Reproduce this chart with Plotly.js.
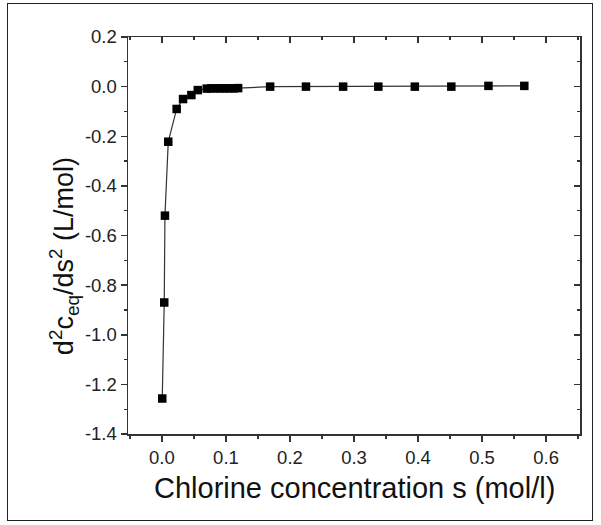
<!DOCTYPE html>
<html>
<head>
<meta charset="utf-8">
<script src="https://cdn.plot.ly/plotly-3.0.1.min.js"></script>
<style>
html,body{margin:0;padding:0;background:#fff;}
#wrap{position:relative;width:601px;height:525px;}
#chart{position:absolute;left:0;top:0;width:601px;height:525px;}
#frame{position:absolute;left:7px;top:3px;width:584px;height:516px;border:1.5px solid #222;pointer-events:none;}
</style>
</head>
<body>
<div id="wrap"><div id="chart"></div><div id="frame"></div></div>
<script>
const chlorine = [0.0005, 0.0036, 0.0047, 0.0099, 0.023, 0.033, 0.046, 0.056, 0.070, 0.077, 0.084, 0.091, 0.098, 0.105, 0.112, 0.119, 0.169, 0.225, 0.283, 0.338, 0.395, 0.452, 0.510, 0.566];
const d2ceq = [-1.257, -0.870, -0.520, -0.222, -0.090, -0.050, -0.034, -0.014, -0.008, -0.007, -0.007, -0.007, -0.007, -0.007, -0.007, -0.006, 0.000, 0.000, 0.000, 0.000, 0.000, 0.000, 0.003, 0.003];
const xTickVals = [0, 0.1, 0.2, 0.3, 0.4, 0.5, 0.6];
const xTickText = ["0.0", "0.1", "0.2", "0.3", "0.4", "0.5", "0.6"];
const yTickVals = [-1.4, -1.2, -1.0, -0.8, -0.6, -0.4, -0.2, 0.0, 0.2];
const yTickText = ["-1.4", "-1.2", "-1.0", "-0.8", "-0.6", "-0.4", "-0.2", "0.0", "0.2"];
const xTitle = "Chlorine concentration s (mol/l)";
const yTitle = "d<sup>2</sup>c<sub>eq</sub>/ds<sup>2</sup> (L/mol)";

const xRange = [-0.053, 0.653];
const yRange = [-1.4, 0.2];
const FONT = "Liberation Sans, Arial, sans-serif";
const axCol = "#333";

const trace = {
  x: chlorine, y: d2ceq, type: "scatter", mode: "lines+markers",
  line: {color: "#333", width: 1.2},
  marker: {symbol: "square", size: 8.5, color: "#000"},
  hoverinfo: "skip", showlegend: false
};

const common = {
  showgrid: false, zeroline: false, showline: true, linecolor: axCol, linewidth: 1.5,
  tickcolor: axCol, tickwidth: 1.5, ticklen: 6
};

const layout = {
  width: 601, height: 525,
  margin: {l: 128, r: 21, t: 37, b: 91},
  paper_bgcolor: "#fff", plot_bgcolor: "#fff",
  font: {family: FONT, color: "#222"},
  xaxis: Object.assign({}, common, {
    range: xRange, tickmode: "array", tickvals: xTickVals, ticktext: xTickText,
    ticks: "outside", tickfont: {size: 18.5, family: FONT, color: "#222"},
    minor: {dtick: 0.05, tick0: 0, ticks: "outside", ticklen: 3, tickcolor: axCol, tickwidth: 1.2}
  }),
  yaxis: Object.assign({}, common, {
    range: yRange, tickmode: "array", tickvals: yTickVals, ticktext: yTickText,
    ticks: "outside", tickfont: {size: 18.5, family: FONT, color: "#222"},
    minor: {dtick: 0.1, tick0: 0, ticks: "outside", ticklen: 3, tickcolor: axCol, tickwidth: 1.2}
  }),
  xaxis2: Object.assign({}, common, {
    range: xRange, overlaying: "x", side: "top", anchor: "y",
    tickmode: "array", tickvals: xTickVals, ticks: "inside", showticklabels: false,
    minor: {dtick: 0.05, tick0: 0, ticks: "inside", ticklen: 3, tickcolor: axCol, tickwidth: 1.2}
  }),
  yaxis2: Object.assign({}, common, {
    range: yRange, overlaying: "y", side: "right", anchor: "x",
    tickmode: "array", tickvals: yTickVals, ticks: "inside", showticklabels: false,
    minor: {dtick: 0.1, tick0: 0, ticks: "inside", ticklen: 3, tickcolor: axCol, tickwidth: 1.2}
  }),
  annotations: [
    {text: xTitle, xref: "paper", yref: "paper", x: 0.501, y: -0.136, xanchor: "center", yanchor: "middle",
     showarrow: false, font: {size: 29, family: FONT, color: "#111"}},
    {text: yTitle, xref: "paper", yref: "paper", x: -0.1416, y: 0.448, xanchor: "center", yanchor: "middle",
     textangle: -90, showarrow: false, font: {size: 27, family: FONT, color: "#111"}}
  ]
};

const dummy = {x: [], y: [], xaxis: "x2", yaxis: "y2", type: "scatter", showlegend: false, hoverinfo: "skip"};

Plotly.newPlot("chart", [trace, dummy], layout, {staticPlot: true, displayModeBar: false});
</script>
</body>
</html>
